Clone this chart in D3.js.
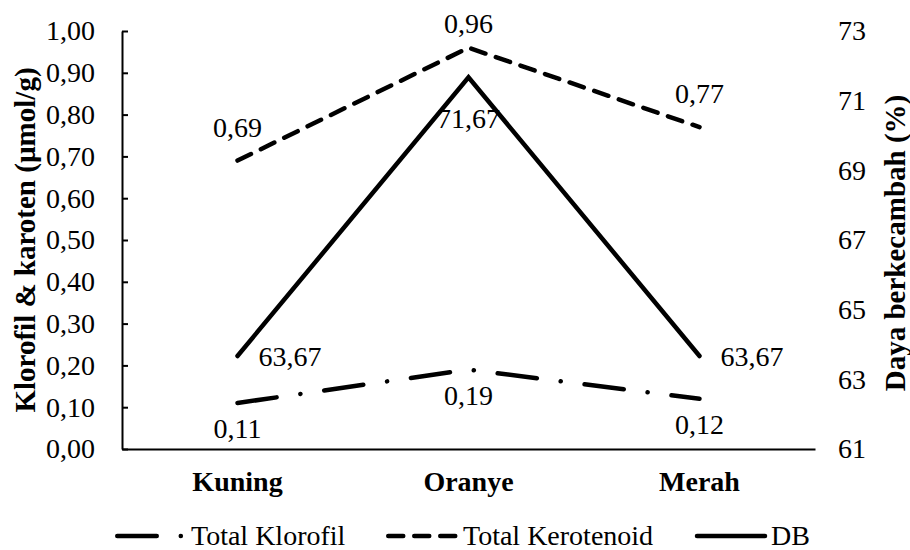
<!DOCTYPE html>
<html>
<head>
<meta charset="utf-8">
<script src="https://cdn.jsdelivr.net/npm/d3@7"></script>
<style>
  html, body { margin: 0; padding: 0; background: #fff; }
  svg { display: block; }
</style>
</head>
<body>
<svg id="chart" width="910" height="550"></svg>
<script>
// Seed colour categories and the measured values for each one
const categories = ["Kuning", "Oranye", "Merah"];
const totalKlorofil = [0.11, 0.19, 0.12];
const totalKerotenoid = [0.69, 0.96, 0.77];
const dayaBerkecambah = [63.67, 71.67, 63.67];

// Axis tick values
const leftTicks = [0, 0.1, 0.2, 0.3, 0.4, 0.5, 0.6, 0.7, 0.8, 0.9, 1.0];
const rightTicks = [61, 63, 65, 67, 69, 71, 73];

// Legend entries
const legendLabels = ["Total Klorofil", "Total Kerotenoid", "DB"];

const SERIF = "Liberation Serif";
const svg = d3.select("#chart");
const plot = { left: 122, right: 815, top: 31, bottom: 449 };
const FONT = 28;

const idLocale = d3.formatLocale({ decimal: ",", thousands: ".", grouping: [3], currency: ["", ""] });
const fmt2 = idLocale.format(".2f");
const fmt0 = idLocale.format("d");

const x = d3.scaleBand().domain(categories).range([plot.left, plot.right]);
const cx = c => x(c) + x.bandwidth() / 2;
const yL = d3.scaleLinear().domain([0, 1]).range([plot.bottom, plot.top]);
const yR = d3.scaleLinear().domain([61, 73]).range([plot.bottom, plot.top]);

function serifText(sel, size) {
  return sel.style("font-family", SERIF).style("font-size", size + "px").attr("fill", "#000");
}

// Left axis: ticks point into the plot, labels right-aligned
const gL = svg.append("g")
  .attr("transform", `translate(${plot.left},0)`)
  .call(d3.axisLeft(yL).tickValues(leftTicks).tickFormat(fmt2)
    .tickSizeInner(-6).tickSizeOuter(0).tickPadding(27));
gL.select(".domain").attr("stroke", "#000").attr("stroke-width", 2);
gL.selectAll(".tick line").attr("stroke", "#000").attr("stroke-width", 2);
serifText(gL.selectAll("text"), FONT);

// Right axis: labels only
const gR = svg.append("g")
  .attr("transform", `translate(${plot.right},0)`)
  .call(d3.axisRight(yR).tickValues(rightTicks).tickFormat(fmt0)
    .tickSize(0).tickPadding(23));
gR.select(".domain").remove();
serifText(gR.selectAll("text"), FONT);

// Category axis
const gB = svg.append("g")
  .attr("transform", `translate(0,${plot.bottom})`)
  .call(d3.axisBottom(x).tickSize(0).tickSizeOuter(0));
gB.select(".domain").attr("stroke", "#000").attr("stroke-width", 2);
serifText(gB.selectAll("text"), FONT).style("font-weight", "bold")
  .attr("y", 42).attr("dy", null);

// Axis titles
serifText(svg.append("text"), 29)
  .attr("transform", `translate(25,${(plot.top + plot.bottom) / 2}) rotate(-90)`)
  .attr("text-anchor", "middle").attr("dominant-baseline", "central")
  .style("font-weight", "bold")
  .text("Klorofil & karoten (µmol/g)");
serifText(svg.append("text"), 29)
  .attr("transform", `translate(895,${(plot.top + plot.bottom) / 2 + 3}) rotate(-90)`)
  .attr("text-anchor", "middle").attr("dominant-baseline", "central")
  .style("font-weight", "bold")
  .text("Daya berkecambah (%)");

// Line styles
const styles = {
  klorofil: { dash: "39.5,24,0.1,24", join: "round" },
  kerotenoid: { dash: "15,11", join: "round" },
  db: { dash: null, join: "miter" }
};
const LW = 4.5;

function drawSeries(values, yScale, style) {
  const line = d3.line().x((d, i) => cx(categories[i])).y(d => yScale(d));
  svg.append("path")
    .datum(values)
    .attr("d", line)
    .attr("fill", "none")
    .attr("stroke", "#000")
    .attr("stroke-width", LW)
    .attr("stroke-linecap", "round")
    .attr("stroke-linejoin", style.join)
    .attr("stroke-dasharray", style.dash);
}

drawSeries(dayaBerkecambah, yR, styles.db);
drawSeries(totalKerotenoid, yL, styles.kerotenoid);
drawSeries(totalKlorofil, yL, styles.klorofil);

// Data labels
function drawLabels(values, yScale, place, dyBelow) {
  values.forEach((v, i) => {
    const px = cx(categories[i]);
    const py = yScale(v);
    let tx = px, ty, anchor = "middle";
    if (place[i] === "above") {
      ty = Math.max(py - 24, 33);
    } else if (place[i] === "below") {
      ty = py + dyBelow;
    } else {
      tx = px + 21; ty = py + 10; anchor = "start";
    }
    serifText(svg.append("text"), FONT)
      .attr("x", tx).attr("y", ty)
      .attr("text-anchor", anchor)
      .text(fmt2(v));
  });
}
drawLabels(totalKerotenoid, yL, ["above", "above", "above"], 0);
drawLabels(totalKlorofil, yL, ["below", "below", "below"], 35);
drawLabels(dayaBerkecambah, yR, ["right", "below", "right"], 51);

// Legend
const legendY = 536;
const legendItems = [
  { style: styles.klorofil, x1: 117.25, x2: 181, tx: 191 },
  { style: styles.kerotenoid, x1: 388.25, x2: 455.25, tx: 463 },
  { style: styles.db, x1: 697, x2: 765, tx: 771 }
];
legendItems.forEach((it, i) => {
  svg.append("line")
    .attr("x1", it.x1).attr("x2", it.x2)
    .attr("y1", legendY).attr("y2", legendY)
    .attr("stroke", "#000").attr("stroke-width", LW)
    .attr("stroke-linecap", "round")
    .attr("stroke-dasharray", it.style.dash);
  serifText(svg.append("text"), FONT)
    .attr("x", it.tx).attr("y", legendY + 9)
    .text(legendLabels[i]);
});
</script>
</body>
</html>
